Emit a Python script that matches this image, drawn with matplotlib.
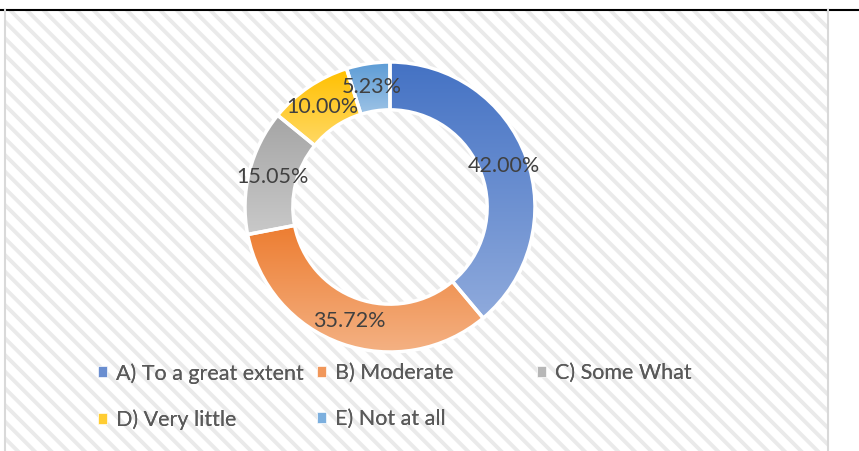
import matplotlib
matplotlib.use("Agg")
import matplotlib.pyplot as plt
import numpy as np
from matplotlib.patches import Rectangle, Patch
from matplotlib.colors import to_rgb

# data
labels = ["A) To a great extent", "B) Moderate", "C) Some What", "D) Very little", "E) Not at all"]
values = [42.00, 35.72, 15.05, 10.00, 5.23]
top_colors = ["#4472C4", "#ED7D31", "#A5A5A5", "#FFC000", "#5B9BD5"]
bottom_colors = ["#8FAADC", "#F4B183", "#C9C9C9", "#FFD966", "#9DC3E6"]

plt.rcParams['font.family'] = ['Lato', 'DejaVu Sans']
plt.rcParams['hatch.color'] = '#EAEAEA'
plt.rcParams['hatch.linewidth'] = 2.8

W, H = 859, 451
fig = plt.figure(figsize=(W / 100, H / 100), dpi=100)
fig.patch.set_facecolor('white')

# background: hatched chart area with borders
bg = fig.add_axes([0, 0, 1, 1])
bg.set_xlim(0, W)
bg.set_ylim(H, 0)
bg.axis('off')
bg.add_patch(Rectangle((5, 10), 823, 441, facecolor='white', edgecolor='#EAEAEA',
                       lw=0, hatch='\\\\'))
bg.plot([0, W], [10, 10], color='black', lw=1.5)
bg.plot([4.5, 4.5], [10, H], color='#D9D9D9', lw=1.5)
bg.plot([828, 828], [10, H], color='#D9D9D9', lw=1.5)

# donut
cx, cy, r = 390, 207, 145
ax = fig.add_axes([(cx - r) / W, (H - cy - r) / H, 2 * r / W, 2 * r / H])
ring = 0.33
wedges, _ = ax.pie(values, startangle=90, counterclock=False, radius=1,
                   wedgeprops=dict(width=ring, facecolor='none', edgecolor='white',
                                   linewidth=2.5, zorder=3))

# vertical gradient inside each wedge
grad = np.linspace(0, 1, 256)[:, None, None]
for w, c0, c1 in zip(wedges, top_colors, bottom_colors):
    ext = w.get_path().get_extents()
    img = (1 - grad) * np.array(to_rgb(c0)) + grad * np.array(to_rgb(c1))
    im = ax.imshow(img, extent=(ext.x0, ext.x1, ext.y0, ext.y1), origin='upper',
                   aspect='auto', zorder=1, interpolation='bilinear')
    im.set_clip_path(w)

# data labels
rr = 1 - ring / 2
for v, w in zip(values, wedges):
    mid = np.deg2rad((w.theta1 + w.theta2) / 2)
    ax.text(rr * np.cos(mid), rr * np.sin(mid), f"{v:.2f}%", ha='center', va='center',
            fontsize=15.5, color='#404040', zorder=4)

ax.set_xlim(-1, 1)
ax.set_ylim(-1, 1)
ax.axis('off')

# legend, row-wise in three columns
mids = [tuple((np.array(to_rgb(a)) + np.array(to_rgb(b))) / 2) for a, b in zip(top_colors, bottom_colors)]
handles = [Patch(facecolor=m, edgecolor='white', lw=0.5) for m in mids]
columns = [([0, 3], 98), ([1, 4], 317), ([2], 537)]
legend_top = 363
for idx, x in columns:
    leg = fig.legend([handles[i] for i in idx], [labels[i] for i in idx],
                     loc='upper left', bbox_to_anchor=(x / W, 1 - legend_top / H),
                     bbox_transform=fig.transFigure, frameon=False, fontsize=15.5,
                     labelcolor='#595959', borderpad=0, borderaxespad=0,
                     handlelength=0.42, handleheight=0.42, handletextpad=0.4,
                     labelspacing=1.2)
    fig.add_artist(leg)

fig.savefig("out.png", dpi=100)
